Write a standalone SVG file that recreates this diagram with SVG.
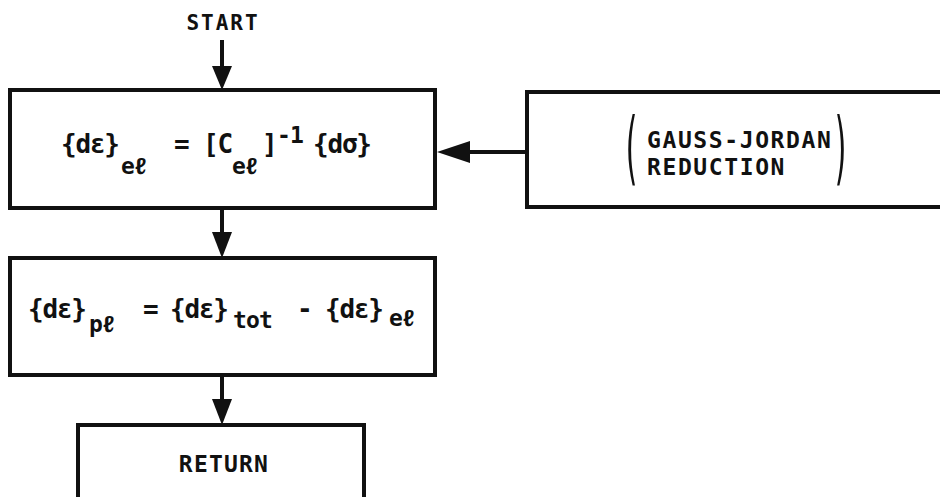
<svg xmlns="http://www.w3.org/2000/svg" width="940" height="497" viewBox="0 0 940 497">
<style>
.box{fill:#fff;stroke:#111;stroke-width:4}
.t{font-family:"DejaVu Sans Mono","Liberation Mono",monospace;font-weight:bold;font-size:26px;letter-spacing:-1.2px;fill:#111}
.s{font-size:23px;letter-spacing:-0.8px}
.l{font-family:"DejaVu Sans Mono","Liberation Mono",monospace;font-weight:bold;font-size:23px;letter-spacing:1.6px;fill:#111}
.p{font-family:"DejaVu Sans Mono","Liberation Mono",monospace;font-weight:normal;font-size:30px;fill:#111}
.ln{stroke:#111;stroke-width:4;fill:none}
.ah{fill:#111}
</style>
<rect width="940" height="497" fill="#fff"/>
<g id="start"><text class="l" x="223" y="30" text-anchor="middle" style="font-size:21px;letter-spacing:2px">START</text></g>
<g id="connectors">
<line class="ln" x1="222" y1="40" x2="222" y2="70"/>
<polygon class="ah" points="212,66 232,66 222,90"/>
<line class="ln" x1="222" y1="208" x2="222" y2="236"/>
<polygon class="ah" points="212,232 232,232 222,258"/>
<line class="ln" x1="222" y1="375" x2="222" y2="402"/>
<polygon class="ah" points="212,399 232,399 222,425"/>
<line class="ln" x1="527" y1="152" x2="466" y2="152"/>
<polygon class="ah" points="470,141 470,163 437,152"/>
</g>
<g id="elastic">
<rect class="box" x="10" y="90" width="425" height="118"/>
<text class="t" x="61" y="153">{dε}</text>
<text class="t s" x="121" y="174">eℓ</text>
<text class="t" x="174" y="153">=</text>
<text class="t" x="203" y="153">[C</text>
<text class="t s" x="232" y="174">eℓ</text>
<text class="t" x="262" y="153">]</text>
<text class="t s" x="277" y="143">-1</text>
<text class="t" x="313" y="153">{dσ}</text>
</g>
<g id="gauss">
<rect class="box" x="527" y="92" width="420" height="115"/>
<text class="p" transform="translate(622,175) scale(1,2.7)" x="0" y="0">(</text>
<text class="l" x="647" y="148">GAUSS-JORDAN</text>
<text class="l" x="647" y="175">REDUCTION</text>
<text class="p" transform="translate(832,175) scale(1,2.7)" x="0" y="0">)</text>
</g>
<g id="plastic">
<rect class="box" x="10" y="258" width="425" height="117"/>
<text class="t" x="28" y="318">{dε}</text>
<text class="t s" x="89" y="332">pℓ</text>
<text class="t" x="143" y="318">=</text>
<text class="t" x="170" y="318">{dε}</text>
<text class="t s" x="233" y="328">tot</text>
<text class="t" x="297" y="318">-</text>
<text class="t" x="325" y="318">{dε}</text>
<text class="t s" x="389" y="326">eℓ</text>
</g>
<g id="return">
<rect class="box" x="78" y="425" width="286" height="82"/>
<text class="l" x="224" y="472" text-anchor="middle" style="letter-spacing:1.2px">RETURN</text>
</g>
</svg>
